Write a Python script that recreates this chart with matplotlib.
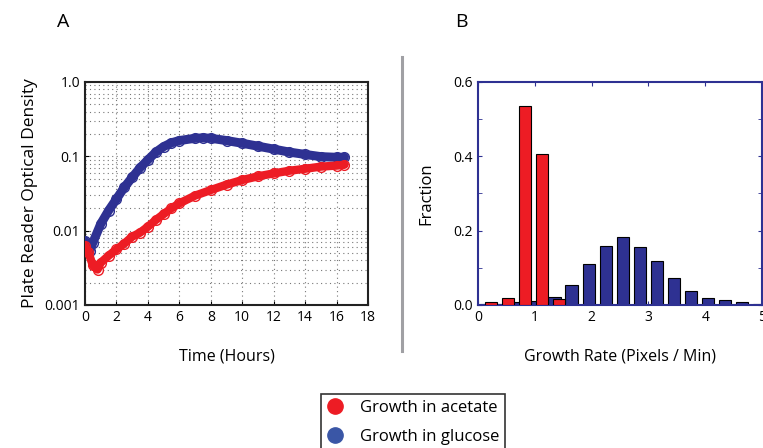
import numpy as np
import matplotlib
matplotlib.use('Agg')
import matplotlib.pyplot as plt
from matplotlib.lines import Line2D

plt.rcParams['font.family'] = ['Open Sans', 'DejaVu Sans']

# cores
vermelho = '#ed1c24'
azul = '#2e3192'
azul_legenda = '#3a56a6'

# painel A - curvas de crescimento (leitura do gráfico)
tempo_glicose = [0, 0.15, 0.3, 0.5, 1, 1.5, 2, 2.5, 3, 3.5, 4, 4.5, 5, 5.5, 6, 7, 7.5, 8, 9, 10, 11, 12, 13, 14, 15, 16, 16.5]
od_glicose = [0.0073, 0.0062, 0.0053, 0.0069, 0.0123, 0.0186, 0.0266, 0.0383, 0.052, 0.070, 0.0895, 0.1135, 0.135,
              0.152, 0.163, 0.175, 0.177, 0.175, 0.163, 0.150, 0.137, 0.125, 0.114, 0.106, 0.099, 0.097, 0.097]

tempo_acetato = [0, 0.2, 0.5, 0.8, 1, 1.5, 2, 2.5, 3, 3.5, 4, 4.5, 5, 5.5, 6, 7, 8, 9, 10, 11, 12, 13, 14, 15, 16, 16.5]
od_acetato = [0.0063, 0.0052, 0.0034, 0.0030, 0.0037, 0.0046, 0.0056, 0.0067, 0.0083, 0.0094, 0.0113, 0.0139, 0.0167,
              0.020, 0.0233, 0.0296, 0.0352, 0.0416, 0.048, 0.0538, 0.059, 0.064, 0.068, 0.0727, 0.075, 0.077]

# painel B - histogramas
centros = [0.15, 0.45, 0.75, 1.05, 1.35, 1.65, 1.95, 2.25, 2.55, 2.85, 3.15, 3.45, 3.75, 4.05, 4.35, 4.65, 4.95]
fracao_glicose = [0.003, 0.004, 0.009, 0.010, 0.022, 0.054, 0.110, 0.158, 0.183, 0.156, 0.118, 0.073, 0.037, 0.020, 0.013, 0.008, 0.004]
centros_acetato = [0.15, 0.45, 0.75, 1.05, 1.35]
fracao_acetato = [0.007, 0.020, 0.535, 0.407, 0.016]

W, H = 763, 448
fig = plt.figure(figsize=(W / 100, H / 100), dpi=100)

def caixa(x0, y0, x1, y1):
    return [x0 / W, 1 - y1 / H, (x1 - x0) / W, (y1 - y0) / H]

# ---------------- painel A ----------------
axA = fig.add_axes(caixa(85, 82, 368, 305))
axA.plot(tempo_glicose, od_glicose, color=azul, lw=6.5, solid_capstyle='round', zorder=3)
axA.plot(tempo_glicose, od_glicose, 'o', mfc='none', mec=azul, ms=7, mew=1, zorder=3)
axA.plot(tempo_acetato, od_acetato, color=vermelho, lw=6, solid_capstyle='round', zorder=4)
axA.plot(tempo_acetato, od_acetato, 'o', mfc='none', mec=vermelho, ms=7, mew=1, zorder=4)
axA.set_yscale('log')
axA.set_ylim(0.001, 1.0)
axA.set_xlim(0, 18)
axA.set_xticks(range(0, 19, 2))
axA.set_yticks([0.001, 0.01, 0.1, 1.0])
axA.set_yticklabels(['0.001', '0.01', '0.1', '1.0'])
axA.grid(True, which='major', axis='x', linestyle=(0, (1, 3)), color='#777777', lw=0.8)
axA.grid(True, which='both', axis='y', linestyle=(0, (1, 3)), color='#777777', lw=0.8)
axA.tick_params(which='both', direction='in', labelsize=10, length=3)
axA.tick_params(which='minor', length=0)
for s in axA.spines.values():
    s.set_linewidth(1.5)
    s.set_color('#222222')
axA.set_xlabel('Time (Hours)', fontsize=11.5, labelpad=17)
axA.set_ylabel('Plate Reader Optical Density', fontsize=12.5, labelpad=5)

# ---------------- painel B ----------------
axB = fig.add_axes(caixa(478, 82, 762, 305))
axB.bar(centros, fracao_glicose, width=0.22, color=azul, edgecolor='black', lw=0.8, zorder=2)
axB.bar(np.array(centros_acetato) + 0.08, fracao_acetato, width=0.21, color=vermelho, edgecolor='black', lw=0.8, zorder=3)
axB.set_xlim(0, 5)
axB.set_ylim(0, 0.6)
axB.set_xticks(range(0, 6))
axB.set_yticks([0, 0.2, 0.4, 0.6])
axB.set_yticklabels(['0.0', '0.2', '0.4', '0.6'])
axB.set_yticks(np.arange(0, 0.61, 0.1), minor=True)
axB.tick_params(which='both', direction='in', labelsize=10, top=True, right=True, length=3, color=azul)
for s in axB.spines.values():
    s.set_linewidth(1.5)
    s.set_color(azul)
axB.set_xlabel('Growth Rate (Pixels / Min)', fontsize=11.5, labelpad=17)
axB.set_ylabel('Fraction', fontsize=12, labelpad=14)

# letras dos painéis
fig.text(63 / W, 1 - 22 / H, 'A', fontsize=14, ha='center', va='center')
fig.text(461 / W, 1 - 22 / H, 'B', fontsize=14, ha='center', va='center')

# linha separadora
fig.add_artist(Line2D([402.5 / W, 402.5 / W], [1 - 57 / H, 1 - 351 / H], color='#a0a0a4', lw=2.2))

# legenda
handles = [Line2D([], [], marker='o', ls='none', color=vermelho, ms=11),
           Line2D([], [], marker='o', ls='none', color=azul_legenda, ms=11)]
leg = fig.legend(handles, ['Growth in acetate', 'Growth in glucose'], loc='upper center',
                 bbox_to_anchor=(413 / W, 1 - 386 / H), fontsize=12, frameon=True, fancybox=False,
                 edgecolor='black', labelspacing=0.75, handlelength=1.0, handletextpad=1.0, borderpad=0.35)
leg.get_frame().set_linewidth(1.2)

fig.savefig('out.png', dpi=100)
